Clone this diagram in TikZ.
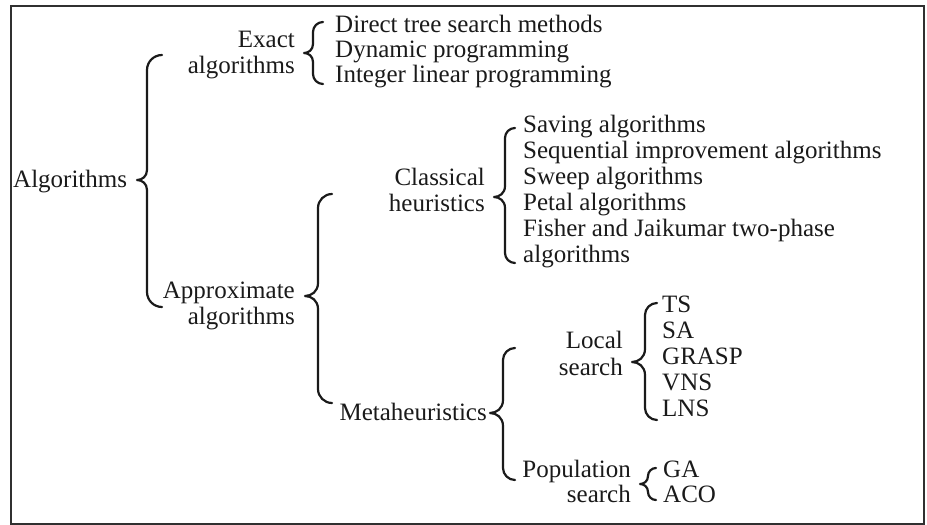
\documentclass[tikz,border=0pt]{standalone}
\usepackage{fontspec}
\setmainfont{Liberation Serif}

\definecolor{ink}{HTML}{1A1A1A}
\definecolor{framegray}{HTML}{303030}

% Curly brace opening to the right:
% #1 x of the hook ends, #2 x of the spine, #3 x of the tip,
% #4 top y, #5 tip y, #6 bottom y
\newcommand\curlybrace[6]{%
  \pgfmathsetmacro\hookr{#1-#2}%
  \pgfmathsetmacro\tipr{#2-#3}%
  \draw[bracestyle] (#1,#4)
    .. controls (#2+0.45*\hookr,#4) and (#2,#4+0.45*\hookr) .. (#2,#4+\hookr)
    -- (#2,#5-\tipr)
    .. controls (#2,#5-0.35*\tipr) and (#3+0.5*\tipr,#5) .. (#3,#5)
    .. controls (#3+0.5*\tipr,#5) and (#2,#5+0.35*\tipr) .. (#2,#5+\tipr)
    -- (#2,#6-\hookr)
    .. controls (#2,#6-0.45*\hookr) and (#2+0.45*\hookr,#6) .. (#1,#6);
}

\begin{document}
\begin{tikzpicture}[x=1pt, y=-1pt,
  txt/.style={inner sep=0pt, font=\fontsize{25}{26}\selectfont, text=ink},
  lft/.style={txt, anchor=base west},
  rgt/.style={txt, anchor=base east},
  bracestyle/.style={draw=ink, line width=2.2pt, line cap=round, line join=round}]

  \useasboundingbox (0,0) rectangle (927,525);
  \draw[framegray, line width=2pt] (10.5,5.5) rectangle (924,523.5);

  % root
  \node[lft] (alg) at (13,187) {Algorithms};
  \curlybrace{162}{147}{137}{55}{180}{307}

  % exact algorithms
  \node[rgt] (exact1) at (295,47) {Exact};
  \node[rgt] (exact2) at (295,73) {algorithms};
  \curlybrace{323}{313}{304}{22}{53}{84}
  \node[lft] (dts) at (335,32) {Direct tree search methods};
  \node[lft] (dp)  at (335,57) {Dynamic programming};
  \node[lft] (ilp) at (335,82) {Integer linear programming};

  % approximate algorithms
  \node[rgt] (approx1) at (295,298) {Approximate};
  \node[rgt] (approx2) at (295,324) {algorithms};
  \curlybrace{332}{318}{305}{194}{296}{403}

  % classical heuristics
  \node[rgt] (class1) at (485,185) {Classical};
  \node[rgt] (class2) at (485,211) {heuristics};
  \curlybrace{515}{505}{494}{128}{197}{263}
  \node[lft] (sav)  at (523,132) {Saving algorithms};
  \node[lft] (seq)  at (523,158) {Sequential improvement algorithms};
  \node[lft] (swp)  at (523,184) {Sweep algorithms};
  \node[lft] (pet)  at (523,210) {Petal algorithms};
  \node[lft] (fj1)  at (523,236) {Fisher and Jaikumar two-phase};
  \node[lft] (fj2)  at (523,262) {algorithms};

  % metaheuristics
  \node[rgt] (meta) at (487,420) {Metaheuristics};
  \curlybrace{515}{503}{490}{348}{413}{480}

  % local search
  \node[rgt] (loc1) at (623,348) {Local};
  \node[rgt] (loc2) at (623,375) {search};
  \curlybrace{657}{645}{632}{303}{362}{420}
  \node[lft] (ts)    at (662,312) {TS};
  \node[lft] (sa)    at (662,338) {SA};
  \node[lft] (grasp) at (662,364) {GRASP};
  \node[lft] (vns)   at (662,390) {VNS};
  \node[lft] (lns)   at (662,416) {LNS};

  % population search
  \node[rgt] (pop1) at (631,477) {Population};
  \node[rgt] (pop2) at (631,502) {search};
  \curlybrace{656}{648}{640}{468}{484}{500}
  \node[lft] (ga)  at (663,477) {GA};
  \node[lft] (aco) at (663,502) {ACO};
\end{tikzpicture}
\end{document}
